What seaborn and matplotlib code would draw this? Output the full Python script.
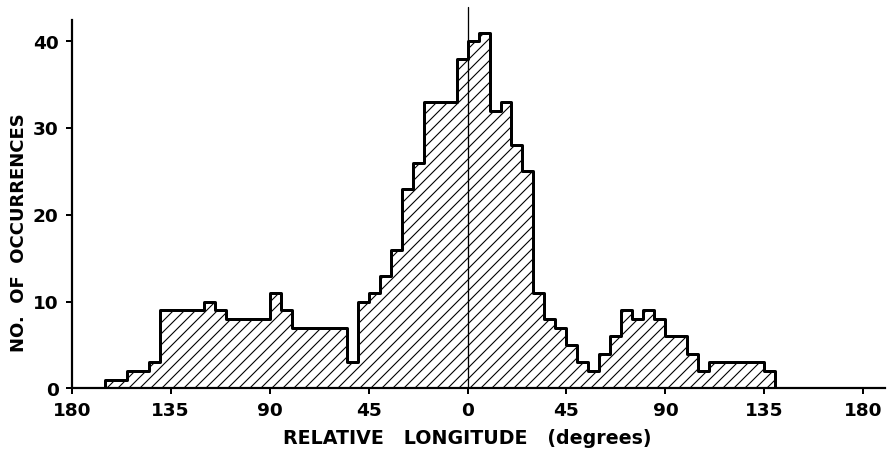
import numpy as np
import pandas as pd
import matplotlib
matplotlib.use("Agg")
import matplotlib.pyplot as plt
import seaborn as sns

# Occurrences per 5 degree bin of relative longitude, west (negative) to east
bin_start = -165
bin_width = 5
counts = [1, 1, 2, 2, 3, 9, 9, 9, 9, 10, 9, 8, 8, 8, 8, 11, 9, 7, 7, 7, 7, 7, 3,
          10, 11, 13, 16, 23, 26, 33, 33, 33, 38,
          40, 41, 32, 33, 28, 25, 11,
          8, 7, 5, 3, 2, 4, 6, 9, 8, 9, 8, 6, 6, 4, 2, 3, 3, 3, 3, 3, 2]

xticks = [-180, -135, -90, -45, 0, 45, 90, 135, 180]
xticklabels = ["180", "135", "90", "45", "0", "45", "90", "135", "180"]
yticks = [0, 10, 20, 30, 40]

edges = (bin_start + bin_width * np.arange(len(counts) + 1)).tolist()
df = pd.DataFrame({"lon": [e + bin_width / 2 for e in edges[:-1]], "n": counts})

DPI = 66
def pt(px):
    return px * 72.0 / DPI

sns.set_style("ticks")
plt.rcParams["font.family"] = ["DejaVu Sans"]
plt.rcParams["hatch.linewidth"] = pt(1.1)
plt.rcParams["axes.edgecolor"] = "black"
plt.rcParams["xtick.color"] = "black"
plt.rcParams["ytick.color"] = "black"
plt.rcParams["axes.labelcolor"] = "black"
plt.rcParams["text.color"] = "black"

fig = plt.figure(figsize=(887.3 / DPI, 454.3 / DPI), dpi=DPI)
ax = fig.add_axes([71.7 / 887, 65.7 / 454, 813.3 / 887, 368.3 / 454])

sns.histplot(data=df, x="lon", weights="n", bins=edges, element="step", fill=True,
             color="white", edgecolor="black", linewidth=pt(3.0), hatch="//",
             alpha=1, ax=ax)

ax.axvline(0, ymin=0, ymax=44 / 42.5, color="black", lw=pt(1.3), clip_on=False, zorder=5)

ax.set_xlim(-180, 190)
ax.set_ylim(0, 42.5)
ax.set_xticks(xticks)
ax.set_xticklabels(xticklabels)
ax.set_yticks(yticks)

sns.despine(ax=ax)
for s in ["left", "bottom"]:
    ax.spines[s].set_linewidth(pt(2.2))
    ax.spines[s].set_color("black")
ax.tick_params(axis="both", direction="out", length=pt(6), width=pt(2), pad=pt(7),
               labelsize=pt(18.5), colors="black")
for lab in ax.get_xticklabels() + ax.get_yticklabels():
    lab.set_fontweight("bold")

ax.set_xlabel("RELATIVE   LONGITUDE   (degrees)", fontsize=pt(19), fontweight="bold")
ax.set_ylabel("NO.  OF  OCCURRENCES", fontsize=pt(18), fontweight="bold")
ax.xaxis.set_label_coords((467.5 - 71.7) / 813.3, (388.3 - 429) / 368.3)
ax.yaxis.set_label_coords((28 - 71.7) / 813.3, (388.3 - 232) / 368.3)

fig.savefig("out.png", dpi=DPI, facecolor="white")
